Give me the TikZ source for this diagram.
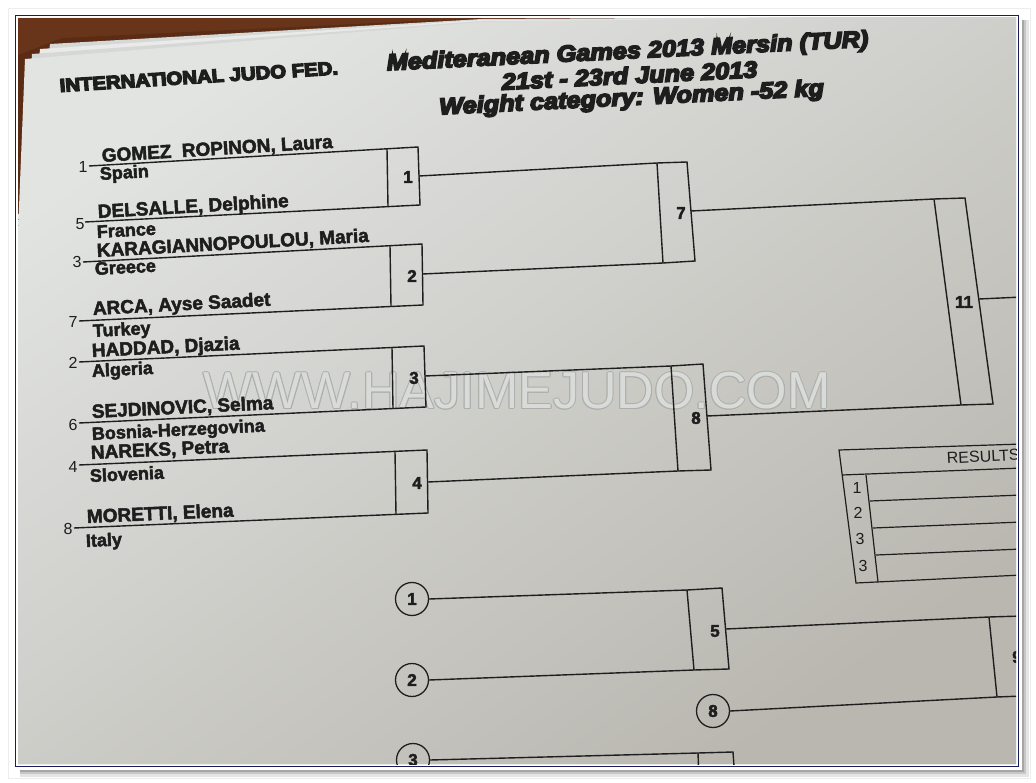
\documentclass[tikz,border=0pt]{standalone}
\usepackage{fontspec}
\setmainfont{Liberation Sans}
\newfontfamily\heavyfont[FakeBold=7]{Liberation Sans}
\newfontfamily\namefont[FakeBold=2.5]{Liberation Sans}
\usetikzlibrary{calc}
\definecolor{ink}{HTML}{1E1E1E}
\definecolor{navy}{HTML}{1B1B5E}
\definecolor{wood}{HTML}{5A2B15}
\definecolor{woodlight}{HTML}{7A4122}
\definecolor{paperA}{HTML}{E2E4E2}
\definecolor{paperB}{HTML}{D1D4D0}
\definecolor{paperC}{HTML}{B9B7B0}
\definecolor{sheetA}{HTML}{E9EAE9}
\definecolor{sheetB}{HTML}{D6D8D6}
\definecolor{wmline}{HTML}{ADAFAC}
\definecolor{wmfill}{HTML}{D9DBD8}
\tikzset{
  ln/.style={draw=ink, line width=1.4pt, line join=miter},
  nm/.style={font=\namefont\bfseries\fontsize{19}{19}\selectfont, anchor=base west, inner sep=0pt, text=ink},
  ct/.style={font=\namefont\bfseries\fontsize{18}{18}\selectfont, anchor=base west, inner sep=0pt, text=ink},
  seed/.style={font=\fontsize{16}{16}\selectfont, inner sep=0.5pt, text=ink},
  bnum/.style={font=\namefont\bfseries\fontsize{17}{17}\selectfont, inner sep=0pt, text=ink},
  circ/.style={circle, draw=ink, line width=1.3pt, minimum size=33pt, inner sep=0pt, font=\namefont\bfseries\fontsize{17}{17}\selectfont, text=ink},
  ttl/.style={font=\heavyfont\bfseries\itshape\fontsize{23}{23}\selectfont, anchor=base, inner sep=0pt, text=ink, xscale=1.1},
  hdr/.style={font=\heavyfont\bfseries\fontsize{18.5}{18.5}\selectfont, anchor=base west, inner sep=0pt, text=ink, xscale=1.1},
  rnum/.style={font=\fontsize{16}{16}\selectfont, inner sep=0pt, text=ink},
  wm/.style={font=\fontsize{52}{52}\selectfont, inner sep=0pt}
}
\begin{document}
\begin{tikzpicture}[x=1pt,y=-1pt]
\useasboundingbox (0,0) rectangle (1036,783);
\fill[white] (0,0) rectangle (1036,783);
\draw[black!7] (8.5,8.5) rectangle (1030,778);
% frame shadow
\fill[black!10] (20,20) rectangle (1029,777);
\fill[black!22] (20,20) rectangle (1026,774);
\fill[black!35] (20,20) rectangle (1024,772);
\fill[white] (12,12) rectangle (1022,770);
\draw[navy, line width=1.3pt] (15.5,15.5) rectangle (1018.5,766.5);

\begin{scope}
\clip (18,18) rectangle (1016,764);
% wood table
\fill[wood] (18,18) rectangle (1016,764);
\fill[woodlight, opacity=0.45] (18,18) -- (480,18) -- (62,38) -- (18,55) -- cycle;
% stacked sheets
\fill[sheetB] (18,320) -- (50,44) -- (482,19) -- (1016,16) -- (1016,764) -- (18,764) -- cycle;
\fill[sheetA] (18,300) -- (40,49) -- (482,20) -- (1016,17) -- (1016,764) -- (18,764) -- cycle;
\fill[sheetB] (18,280) -- (32,54) -- (482,21) -- (1016,18) -- (1016,764) -- (18,764) -- cycle;
% top sheet
\shade[top color=paperA, middle color=paperB, bottom color=paperC, shading angle=35]
  (18,232) -- (25,59) -- (482,22) -- (1016,14) -- (1016,764) -- (18,764) -- cycle;

% watermark
\coordinate (wmc) at (517,391);
\foreach \dx/\dy [count=\i] in {-1/0,1/0,0/-1,0/1,-0.7/-0.7,0.7/0.7,-0.7/0.7,0.7/-0.7}
  \node[wm, text=wmline, name=wmo\i] at ($(wmc)+(\dx,\dy)$) {WWW.HAJIMEJUDO.COM};
\node[wm, text=wmfill] (wmt) at (wmc) {WWW.HAJIMEJUDO.COM};

% headers
\node[hdr, rotate=4] (ijf) at (60,92) {INTERNATIONAL JUDO FED.};
\node[ttl, rotate=3.1] (t1) at (628,58.5) {Mediteranean Games 2013 Mersin (TUR)};
\node[ttl, rotate=3.1] (t2) at (630,83.5) {21st - 23rd June 2013};
\node[ttl, rotate=3.1] (t3) at (632,105) {Weight category: Women -52 kg};

% seeds
\node[seed] (sd1) at (83,167) {1};
\node[seed] (sd5) at (80,224) {5};
\node[seed] (sd3) at (77,262) {3};
\node[seed] (sd7) at (73,322) {7};
\node[seed] (sd2) at (73,363) {2};
\node[seed] (sd6) at (73,425) {6};
\node[seed] (sd4) at (73,467) {4};
\node[seed] (sd8) at (68,529) {8};

% competitors
\node[nm, rotate=3.5] (n1) at (102,162) {GOMEZ\ \ ROPINON, Laura};
\node[ct, rotate=3.4] (k1) at (100,180) {Spain};
\node[nm, rotate=3.3] (n2) at (98,218) {DELSALLE, Delphine};
\node[ct, rotate=3.2] (k2) at (97,238) {France};
\node[nm, rotate=3.2] (n3) at (97,257) {KARAGIANNOPOULOU, Maria};
\node[ct, rotate=3.1] (k3) at (95,275) {Greece};
\node[nm, rotate=3.0] (n4) at (93,315) {ARCA, Ayse Saadet};
\node[ct, rotate=3.0] (k4) at (93,337) {Turkey};
\node[nm, rotate=2.9] (n5) at (92,357) {HADDAD, Djazia};
\node[ct, rotate=2.9] (k5) at (92,377) {Algeria};
\node[nm, rotate=2.8] (n6) at (92,418) {SEJDINOVIC, Selma};
\node[ct, rotate=2.8] (k6) at (92,440) {Bosnia-Herzegovina};
\node[nm, rotate=2.7] (n7) at (91,459) {NAREKS, Petra};
\node[ct, rotate=2.6] (k7) at (90,482) {Slovenia};
\node[nm, rotate=2.5] (n8) at (87,523) {MORETTI, Elena};
\node[ct, rotate=2.5] (k8) at (86,547) {Italy};

% line starts
\coordinate (s1) at (89,166);
\coordinate (s5) at (85,222);
\coordinate (s3) at (83,262);
\coordinate (s7) at (79,321);
\coordinate (s2) at (79,362);
\coordinate (s6) at (79,423);
\coordinate (s4) at (79,465);
\coordinate (s8) at (74,528);

% round 1 boxes
\coordinate (b1tr) at (418,147); \coordinate (b1br) at (420,205);
\coordinate (b1ti) at (387,148.8); \coordinate (b1bi) at (388,206.6); \coordinate (b1o) at (419,176);
\coordinate (b2tr) at (422,244); \coordinate (b2br) at (423,305);
\coordinate (b2ti) at (390,245.6); \coordinate (b2bi) at (391,306.5); \coordinate (b2o) at (422.5,274);
\coordinate (b3tr) at (424,346); \coordinate (b3br) at (426,407);
\coordinate (b3ti) at (392,347.5); \coordinate (b3bi) at (393,408.5); \coordinate (b3o) at (425,376);
\coordinate (b4tr) at (427,450); \coordinate (b4br) at (428,513);
\coordinate (b4ti) at (395,451.5); \coordinate (b4bi) at (396,514.5); \coordinate (b4o) at (428,482);
\draw[ln] (s1) -- (b1tr) -- (b1br) -- (s5);  \draw[ln] (b1ti) -- (b1bi);
\draw[ln] (s3) -- (b2tr) -- (b2br) -- (s7);  \draw[ln] (b2ti) -- (b2bi);
\draw[ln] (s2) -- (b3tr) -- (b3br) -- (s6);  \draw[ln] (b3ti) -- (b3bi);
\draw[ln] (s4) -- (b4tr) -- (b4br) -- (s8);  \draw[ln] (b4ti) -- (b4bi);
\node[bnum] (m1) at (408,177) {1};
\node[bnum] (m2) at (412,276) {2};
\node[bnum] (m3) at (414,378) {3};
\node[bnum] (m4) at (417,483) {4};

% round 2
\coordinate (b7tl) at (657,163); \coordinate (b7tr) at (687,162);
\coordinate (b7br) at (695,261); \coordinate (b7bl) at (663,263); \coordinate (b7o) at (691,211);
\coordinate (b8tl) at (671,366); \coordinate (b8tr) at (703,364);
\coordinate (b8br) at (711,470); \coordinate (b8bl) at (678,471); \coordinate (b8o) at (707,416);
\draw[ln] (b1o) -- (b7tl) -- (b7tr) -- (b7br) -- (b7bl) -- (b2o);
\draw[ln] (b7tl) -- (b7bl);
\draw[ln] (b3o) -- (b8tl) -- (b8tr) -- (b8br) -- (b8bl) -- (b4o);
\draw[ln] (b8tl) -- (b8bl);
\node[bnum] (m7) at (681,213) {7};
\node[bnum] (m8) at (696,418) {8};

% final
\coordinate (b11tl) at (934,199); \coordinate (b11tr) at (965,198);
\coordinate (b11br) at (993,404); \coordinate (b11bl) at (961,405);
\coordinate (b11o) at (979,299); \coordinate (b11e) at (1022,297);
\draw[ln] (b7o) -- (b11tl) -- (b11tr) -- (b11br) -- (b11bl) -- (b8o);
\draw[ln] (b11tl) -- (b11bl);
\draw[ln] (b11o) -- (b11e);
\node[bnum] (m11) at (964,302) {11};

% results table
\coordinate (rtl) at (839,450); \coordinate (rtr) at (1022,444);
\coordinate (rhl) at (842,475); \coordinate (rhr) at (1022,468);
\coordinate (rbl) at (856,583); \coordinate (rbr) at (1022,575);
\coordinate (rdt) at (866,475); \coordinate (rdb) at (878,582);
\coordinate (r1l) at (870,501); \coordinate (r1r) at (1022,495);
\coordinate (r2l) at (873,528); \coordinate (r2r) at (1022,522);
\coordinate (r3l) at (876,555); \coordinate (r3r) at (1022,549);
\draw[ln, line width=1.2pt] (rtr) -- (rtl) -- (rbl) -- (rbr);
\draw[ln, line width=1.2pt] (rhl) -- (rhr);
\draw[ln, line width=1.2pt] (rdt) -- (rdb);
\draw[ln, line width=1.2pt] (r1l) -- (r1r);
\draw[ln, line width=1.2pt] (r2l) -- (r2r);
\draw[ln, line width=1.2pt] (r3l) -- (r3r);
\node[rnum, anchor=base west, rotate=3] (res) at (947,464) {RESULTS};
\node[rnum] (p1) at (857,488) {1};
\node[rnum] (p2) at (858,513) {2};
\node[rnum] (p3a) at (860,539) {3};
\node[rnum] (p3b) at (863,566) {3};

% repechage
\node[circ] (c1) at (412,599) {1};
\node[circ] (c2) at (412,680) {2};
\node[circ] (c8) at (713,711) {8};
\node[circ] (c3) at (413,760) {3};
\coordinate (b5tl) at (687,590); \coordinate (b5tr) at (722,588);
\coordinate (b5br) at (729,669); \coordinate (b5bl) at (694,670); \coordinate (b5o) at (726,629);
\draw[ln] (c1.east) -- (b5tl) -- (b5tr) -- (b5br) -- (b5bl) -- (c2.east);
\draw[ln] (b5tl) -- (b5bl);
\node[bnum] (m5) at (715,631) {5};
\coordinate (b9tl) at (989,617); \coordinate (b9bl) at (997,697);
\coordinate (b9te) at (1022,616); \coordinate (b9be) at (1022,696);
\draw[ln] (b5o) -- (b9tl) -- (b9te);
\draw[ln] (c8.east) -- (b9bl) -- (b9be);
\draw[ln] (b9tl) -- (b9bl);
\node[bnum, anchor=west] (m9) at (1012,657) {9};
\coordinate (b10tl) at (698,753); \coordinate (b10tr) at (733,752);
\coordinate (b10bl) at (699,780); \coordinate (b10br) at (735,780);
\draw[ln] (c3.east) -- (b10tl) -- (b10tr) -- (b10br);
\draw[ln] (b10tl) -- (b10bl);
\end{scope}
\end{tikzpicture}
\end{document}
